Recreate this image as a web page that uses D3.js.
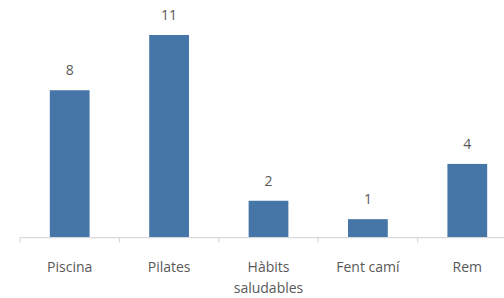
<!DOCTYPE html>
<html>
<head>
<meta charset="utf-8">
<script src="https://cdn.jsdelivr.net/npm/d3@7"></script>
<style>
html,body{margin:0;padding:0;background:#fff;}
svg{display:block;}
text{font-family:"Open Sans","Noto Sans",sans-serif;fill:#595959;}
</style>
</head>
<body>
<svg id="chart" width="504" height="298"></svg>
<script>
const categories = ["Piscina", "Pilates", "Hàbits saludables", "Fent camí", "Rem"];
const values = [8, 11, 2, 1, 4];
const yMax = 12;

const svg = d3.select("#chart");
const left = 20, bandW = 99.4, baseY = 237.6, unit = 18.42;
const x = d3.scaleBand().domain(categories).range([left, left + bandW * categories.length]).paddingInner(0.6).paddingOuter(0.3);
const y = d3.scaleLinear().domain([0, yMax]).range([baseY, baseY - unit * yMax]);

svg.selectAll("rect.bar").data(values).join("rect")
  .attr("class", "bar")
  .attr("x", (d, i) => x(categories[i]))
  .attr("width", x.bandwidth())
  .attr("y", d => y(d))
  .attr("height", d => y(0) - y(d))
  .attr("fill", "#4675a8");

svg.selectAll("text.val").data(values).join("text")
  .attr("class", "val")
  .attr("x", (d, i) => x(categories[i]) + x.bandwidth() / 2)
  .attr("y", d => y(d) - 15)
  .attr("text-anchor", "middle")
  .attr("font-size", "14px")
  .text(d => d);

const axisG = svg.append("g").attr("transform", `translate(0,${baseY})`);
const xr = x.range();
axisG.append("line").attr("x1", xr[0]).attr("x2", xr[1]).attr("y1", 0).attr("y2", 0)
  .attr("stroke", "#d9d9d9").attr("stroke-width", 1.2);
d3.range(categories.length + 1).forEach(i => {
  const tx = xr[0] + bandW * i;
  axisG.append("line").attr("x1", tx).attr("x2", tx).attr("y1", 0).attr("y2", 5)
    .attr("stroke", "#d9d9d9").attr("stroke-width", 1.2);
});

const lbl = svg.selectAll("text.cat").data(categories).join("text")
  .attr("class", "cat")
  .attr("text-anchor", "middle")
  .attr("font-size", "14px")
  .attr("transform", d => `translate(${x(d) + x.bandwidth() / 2},272)`);
lbl.each(function(d) {
  const words = d === "Hàbits saludables" ? ["Hàbits", "saludables"] : [d];
  d3.select(this).selectAll("tspan").data(words).join("tspan")
    .attr("x", 0).attr("dy", (w, i) => i === 0 ? 0 : 21).text(w => w);
});
</script>
</body>
</html>
